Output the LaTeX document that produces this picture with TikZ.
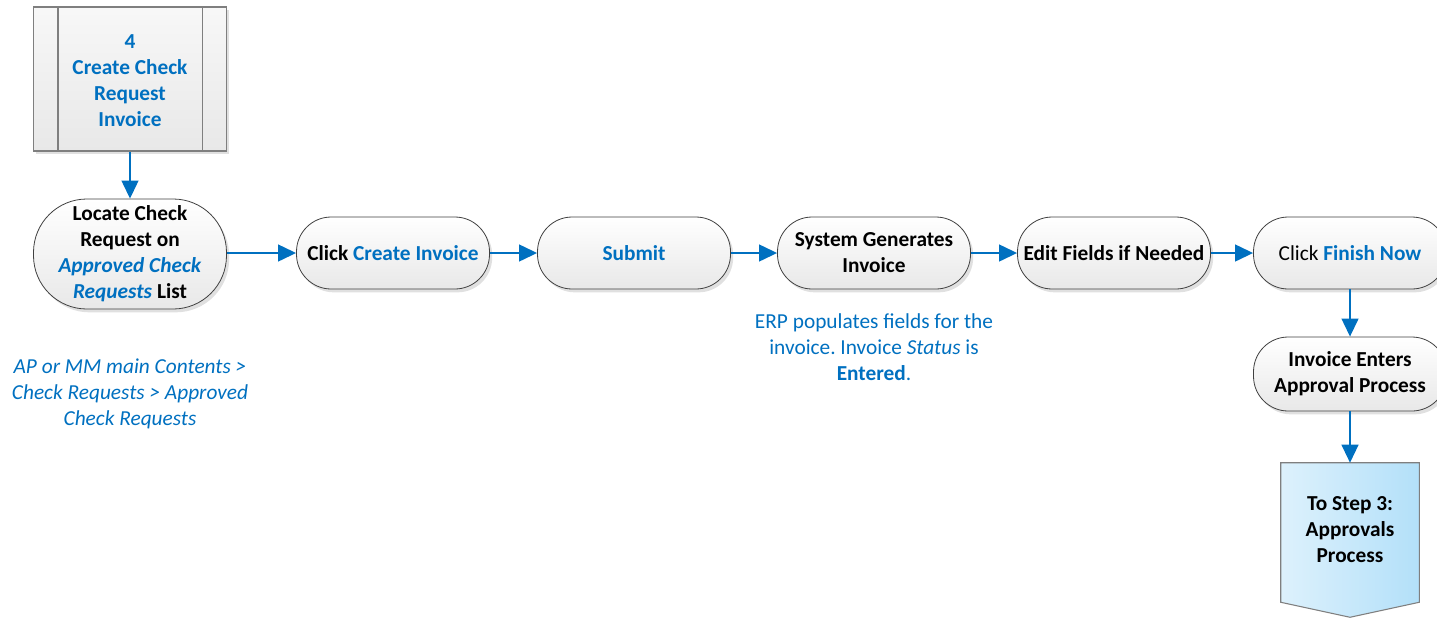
\documentclass[tikz,border=0pt]{standalone}
\usepackage{fontspec}
\setmainfont{Carlito}
\usetikzlibrary{arrows.meta,shadows,positioning}
\frenchspacing

\definecolor{erpblue}{HTML}{0070C0}
\definecolor{edgegray}{HTML}{404040}
\definecolor{boxgray}{HTML}{7F7F7F}
\definecolor{paleblue}{HTML}{DDF1FC}
\definecolor{skyblue}{HTML}{B3E0F9}

\newcommand{\flowfont}{\fontsize{16}{19.5}\selectfont}

\tikzset{
    stadium/.style={draw=edgegray, line width=0.6pt, rounded corners=26pt,
        top color=white, bottom color=black!9,
        drop shadow={shadow xshift=2pt, shadow yshift=-2.5pt, fill=black!30, opacity=0.4},
        minimum width=144.75pt, minimum height=54pt, inner sep=1pt,
        font=\flowfont\bfseries, align=center},
    predef/.style={draw=boxgray, line width=0.8pt,
        top color=black!3, bottom color=black!9,
        drop shadow={shadow xshift=2pt, shadow yshift=-2.5pt, fill=black!30, opacity=0.4},
        minimum width=144.75pt, minimum height=108pt},
    offpage/.style={minimum width=103.5pt, minimum height=104.25pt,
        font=\flowfont\bfseries, align=center},
    flow/.style={draw=erpblue, line width=1.7pt, -{Triangle[length=13.5pt,width=12.5pt]}},
    note/.style={text=erpblue, font=\flowfont, align=center}
}

\begin{document}
\begin{tikzpicture}[x=0.75pt, y=-0.75pt]

    \useasboundingbox (0,0) rectangle (1437,618);

    % sub-process box
    \node[predef] (subproc) at (130,79) {};
    \draw[boxgray, line width=0.8pt] ([xshift=18.75pt]subproc.north west) -- ([xshift=18.75pt]subproc.south west);
    \draw[boxgray, line width=0.8pt] ([xshift=-18.75pt]subproc.north east) -- ([xshift=-18.75pt]subproc.south east);
    \node[note, font=\flowfont\bfseries] (subproctext) at (130,80.5) {4\\ Create Check\\ Request\\ Invoice};

    % main row
    \node[stadium, minimum height=82.5pt, rounded corners=40pt] (locate) at (130,254)
        {Locate Check\\ Request on\\ \textcolor{erpblue}{\textit{Approved Check}}\\ \textcolor{erpblue}{\textit{Requests}} List};
    \node[stadium] (createinv) at (393,253) {Click \textcolor{erpblue}{Create Invoice}};
    \node[stadium] (submit) at (634,253) {\textcolor{erpblue}{Submit}};
    \node[stadium] (sysgen) at (874,253) {System Generates\\ Invoice};
    \node[stadium] (editfields) at (1114,253) {Edit Fields if Needed};
    \node[stadium] (finish) at (1350,253) {{\mdseries Click} \textcolor{erpblue}{Finish Now}};

    % down the right side
    \node[stadium, minimum height=55.5pt] (enters) at (1350,374) {Invoice Enters\\ Approval Process};
    \node[offpage] (tostep3) at (1350,532.5) {};
    \draw[boxgray, line width=0.8pt, left color=paleblue, right color=skyblue]
        (tostep3.north west) -- (tostep3.north east) -- (tostep3.south east)
        -- ([yshift=-11.25pt]tostep3.south) -- (tostep3.south west) -- cycle;
    \node[offpage] (tostep3text) at (1350,530) {To Step 3:\\ Approvals\\ Process};

    % notes
    \node[note] (pathnote) at (130,394)
        {\textit{AP or MM main Contents >}\\ \textit{Check Requests > Approved}\\ \textit{Check Requests}};
    \node[note] (erpnote) at (874,347)
        {ERP populates fields for the\\ invoice. Invoice \textit{Status} is\\ \textbf{Entered}.};

    % connectors
    \draw[flow] (subproc) -- (locate);
    \draw[flow] (locate.east |- createinv) -- (createinv);
    \draw[flow] (createinv) -- (submit);
    \draw[flow] (submit) -- (sysgen);
    \draw[flow] (sysgen) -- (editfields);
    \draw[flow] (editfields) -- (finish);
    \draw[flow] (finish) -- (enters);
    \draw[flow] (enters) -- (tostep3);

\end{tikzpicture}
\end{document}
